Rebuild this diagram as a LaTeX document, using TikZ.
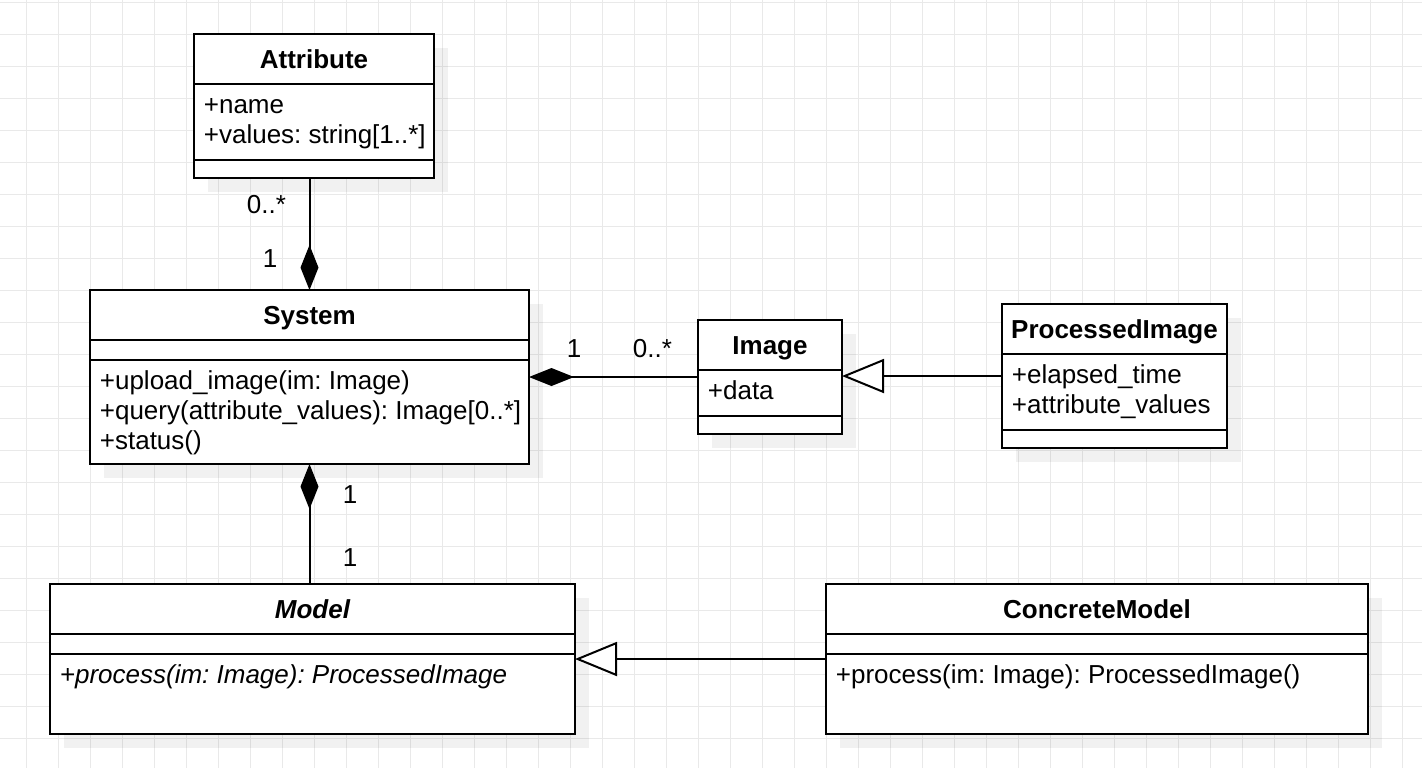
\documentclass[tikz,border=0pt]{standalone}
\usepackage{fontspec}
\setmainfont{Liberation Sans}
\usetikzlibrary{arrows.meta}
\definecolor{gridc}{RGB}{233,233,233}
\frenchspacing
\begin{document}
\begin{tikzpicture}[x=0.5pt,y=-0.5pt,
  font=\fontsize{13pt}{15pt}\selectfont\frenchspacing,
  gridline/.style={draw=gridc, line width=0.5pt},
  boxshadow/.style={fill=black, fill opacity=0.055},
  cls/.style={draw=black, fill=white, line width=1pt, inner sep=0pt, outer sep=0pt, anchor=north west},
  divider/.style={line width=1pt},
  ttl/.style={font=\fontsize{13pt}{15pt}\selectfont\bfseries, anchor=base, inner sep=0pt},
  mem/.style={anchor=base west, inner sep=0pt},
  multlbl/.style={anchor=base, inner sep=0pt},
  conn/.style={line width=1pt},
  compo/.style={conn, {Diamond[length=22.5pt,width=9pt]}-},
  gener/.style={conn, -{Triangle[length=21pt,width=17pt,fill=white]}}
]
\useasboundingbox (0,0) rectangle (1422,768);
\fill[white] (0,0) rectangle (1422,768);
% grid
\foreach \gx in {0,...,43} \draw[gridline] ({26.5+32*\gx},0) -- ({26.5+32*\gx},768);
\foreach \gy in {0,...,23} \draw[gridline] (0,{2.3+32*\gy}) -- (1422,{2.3+32*\gy});

% shadows
\fill[boxshadow] (208,48) rectangle (448,192);
\fill[boxshadow] (104,304) rectangle (543,478);
\fill[boxshadow] (712,334) rectangle (856,448);
\fill[boxshadow] (1016,318) rectangle (1241,462);
\fill[boxshadow] (64,598) rectangle (589,748);
\fill[boxshadow] (840,598) rectangle (1382,748);

% Attribute
\node[cls, minimum width=120pt, minimum height=72pt] (A) at (194,34) {};
\draw[divider] ([yshift=-25pt]A.north west) -- ([yshift=-25pt]A.north east);
\draw[divider] ([yshift=-63pt]A.north west) -- ([yshift=-63pt]A.north east);
\node[ttl] (At) at (314,68.5) {Attribute};
\node[mem] (A1) at (203.5,113.5) {+name};
\node[mem] (A2) at (203.5,143.5) {+values: string[1..*]};

% System
\node[cls, minimum width=219.5pt, minimum height=87pt] (S) at (90,290) {};
\draw[divider] ([yshift=-25pt]S.north west) -- ([yshift=-25pt]S.north east);
\draw[divider] ([yshift=-35pt]S.north west) -- ([yshift=-35pt]S.north east);
\node[ttl] (St) at (309.5,324.3) {System};
\node[mem] (S1) at (99.5,389.5) {+upload\_image(im: Image)};
\node[mem] (S2) at (99.5,419.5) {+query(attribute\_values): Image[0..*]};
\node[mem] (S3) at (99.5,449.5) {+status()};

% Image
\node[cls, minimum width=72pt, minimum height=57pt] (I) at (698,320) {};
\draw[divider] ([yshift=-25pt]I.north west) -- ([yshift=-25pt]I.north east);
\draw[divider] ([yshift=-48pt]I.north west) -- ([yshift=-48pt]I.north east);
\node[ttl] (It) at (770,354.3) {Image};
\node[mem] (I1) at (707.5,399.5) {+data};

% ProcessedImage
\node[cls, minimum width=112.5pt, minimum height=72pt] (P) at (1002,304) {};
\draw[divider] ([yshift=-25pt]P.north west) -- ([yshift=-25pt]P.north east);
\draw[divider] ([yshift=-63pt]P.north west) -- ([yshift=-63pt]P.north east);
\node[ttl] (Pt) at (1114.5,338.3) {ProcessedImage};
\node[mem] (P1) at (1011.5,383.5) {+elapsed\_time};
\node[mem] (P2) at (1011.5,413.5) {+attribute\_values};

% Model
\node[cls, minimum width=262.5pt, minimum height=75pt] (M) at (50,584) {};
\draw[divider] ([yshift=-25pt]M.north west) -- ([yshift=-25pt]M.north east);
\draw[divider] ([yshift=-35pt]M.north west) -- ([yshift=-35pt]M.north east);
\node[ttl, font=\fontsize{13pt}{15pt}\selectfont\bfseries\itshape] (Mt) at (312.5,618.3) {Model};
\node[mem, font=\fontsize{13pt}{15pt}\selectfont\itshape] (M1) at (59.5,683.5) {+process(im: Image): ProcessedImage};

% ConcreteModel
\node[cls, minimum width=271pt, minimum height=75pt] (C) at (826,584) {};
\draw[divider] ([yshift=-25pt]C.north west) -- ([yshift=-25pt]C.north east);
\draw[divider] ([yshift=-35pt]C.north west) -- ([yshift=-35pt]C.north east);
\node[ttl] (Ct) at (1097,618.3) {ConcreteModel};
\node[mem] (C1) at (835.5,683.5) {+process(im: Image): ProcessedImage()};

% connectors
\draw[compo] (S.north) -- (S.north |- A.south);
\draw[compo] (S.east |- I.west) -- (I.west);
\draw[compo] (S.south) -- (S.south |- M.north);
\draw[gener] (P.west) -- (P.west -| I.east);
\draw[gener] (C.west) -- (M.east);

% multiplicities
\node[multlbl] (m1) at (266.5,213.5) {0..*};
\node[multlbl] (m2) at (270,267) {1};
\node[multlbl] (m3) at (574,357) {1};
\node[multlbl] (m4) at (652.5,357) {0..*};
\node[multlbl] (m5) at (350,503.5) {1};
\node[multlbl] (m6) at (350,566) {1};
\end{tikzpicture}
\end{document}
